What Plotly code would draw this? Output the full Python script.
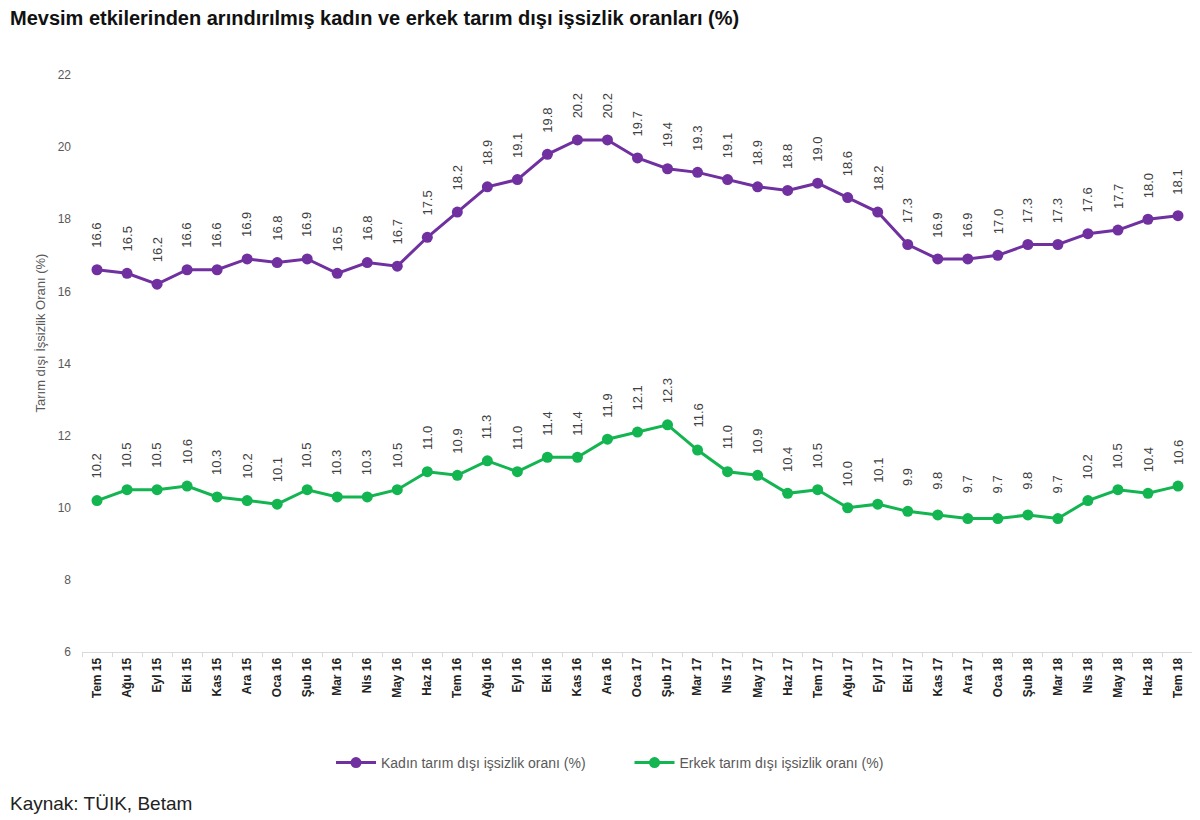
import plotly.graph_objects as go

months = ["Tem 15", "Ağu 15", "Eyl 15", "Eki 15", "Kas 15", "Ara 15", "Oca 16", "Şub 16",
          "Mar 16", "Nis 16", "May 16", "Haz 16", "Tem 16", "Ağu 16", "Eyl 16", "Eki 16",
          "Kas 16", "Ara 16", "Oca 17", "Şub 17", "Mar 17", "Nis 17", "May 17", "Haz 17",
          "Tem 17", "Ağu 17", "Eyl 17", "Eki 17", "Kas 17", "Ara 17", "Oca 18", "Şub 18",
          "Mar 18", "Nis 18", "May 18", "Haz 18", "Tem 18"]

kadin = [16.6, 16.5, 16.2, 16.6, 16.6, 16.9, 16.8, 16.9, 16.5, 16.8, 16.7, 17.5, 18.2,
         18.9, 19.1, 19.8, 20.2, 20.2, 19.7, 19.4, 19.3, 19.1, 18.9, 18.8, 19.0, 18.6,
         18.2, 17.3, 16.9, 16.9, 17.0, 17.3, 17.3, 17.6, 17.7, 18.0, 18.1]

erkek = [10.2, 10.5, 10.5, 10.6, 10.3, 10.2, 10.1, 10.5, 10.3, 10.3, 10.5, 11.0, 10.9,
         11.3, 11.0, 11.4, 11.4, 11.9, 12.1, 12.3, 11.6, 11.0, 10.9, 10.4, 10.5, 10.0,
         10.1, 9.9, 9.8, 9.7, 9.7, 9.8, 9.7, 10.2, 10.5, 10.4, 10.6]

y_ticks = [6, 8, 10, 12, 14, 16, 18, 20, 22]

PURPLE = "#7030A0"
GREEN = "#12B550"
FONT = "Liberation Sans"

L, R, T, B = 74, 15, 67, 176
W, H = 1200, 820
plot_w = W - L - R
plot_h = H - T - B


def px_to_paper(px, py):
    # px, py are figure pixel coordinates
    return (px - L) / plot_w, (T + plot_h - py) / plot_h


fig = go.Figure()
fig.add_trace(go.Scatter(
    x=months, y=kadin, mode="lines+markers",
    name="Kadın tarım dışı işsizlik oranı (%)" + "\u00a0" * 10,
    line=dict(color=PURPLE, width=3),
    marker=dict(color=PURPLE, size=11, symbol="circle"),
))
fig.add_trace(go.Scatter(
    x=months, y=erkek, mode="lines+markers",
    name="Erkek tarım dışı işsizlik oranı (%)",
    line=dict(color=GREEN, width=3),
    marker=dict(color=GREEN, size=11, symbol="circle"),
))

annotations = []
for series in (kadin, erkek):
    for m, v in zip(months, series):
        annotations.append(dict(
            x=m, y=v, xref="x", yref="y", text=f"{v:.1f}",
            showarrow=False, textangle=-90, yshift=34,
            font=dict(family=FONT, size=13, color="#404040"),
        ))

ax, ay = px_to_paper(22, 325)
annotations.append(dict(
    x=ax, y=ay, xref="paper", yref="paper", text="Tarım dışı İşsizlik Oranı (%)",
    showarrow=False, textangle=-90,
    font=dict(family=FONT, size=13, color="#595959"),
))

sx, sy = px_to_paper(0, 795)
annotations.append(dict(
    x=sx, y=sy, xref="paper", yref="paper", xanchor="left", yanchor="middle",
    text="Kaynak: TÜIK, Betam", showarrow=False,
    font=dict(family=FONT, size=19, color="#222222"),
))

lx, ly = px_to_paper(602, 755)

fig.update_layout(
    width=W, height=H,
    margin=dict(l=L, r=R, t=T, b=B),
    paper_bgcolor="white", plot_bgcolor="white",
    title=dict(
        text="<b>Mevsim etkilerinden arındırılmış kadın ve erkek tarım dışı işsizlik oranları (%)</b>",
        x=0.0, xanchor="left", xref="container",
        y=1.0, yanchor="top", yref="container",
        pad=dict(t=3, l=2),
        font=dict(family=FONT, size=20, color="#111111"),
    ),
    showlegend=True,
    legend=dict(
        orientation="h", x=lx, xanchor="center", y=ly, yanchor="middle",
        font=dict(family=FONT, size=14, color="#595959"),
        itemwidth=40, tracegroupgap=0,
    ),
    xaxis=dict(
        type="category", range=[-0.5, len(months) - 0.5],
        tickangle=-90, tickfont=dict(family=FONT, size=12, color="#222222", weight="bold"),
        showgrid=False, zeroline=False,
        showline=True, linecolor="#d9d9d9", linewidth=1,
        ticks="outside", tickson="boundaries", ticklen=4, tickcolor="#d9d9d9",
    ),
    yaxis=dict(
        range=[6, 22], tickvals=y_ticks,
        tickfont=dict(family=FONT, size=12, color="#595959"),
        showgrid=False, zeroline=False, showline=False, ticks="",
        ticklabelstandoff=10,
    ),
    annotations=annotations,
)

fig.write_html("out.html")
